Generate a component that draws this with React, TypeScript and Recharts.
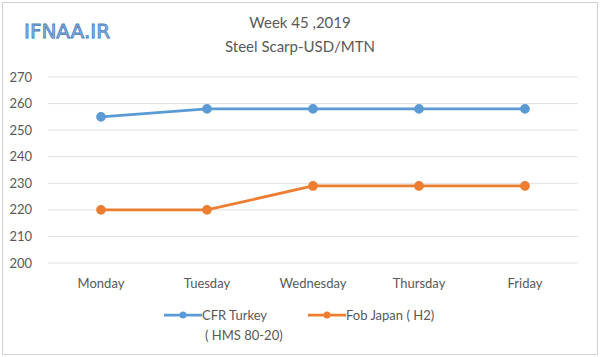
import React from 'react';
import { LineChart, Line, XAxis, YAxis, CartesianGrid } from 'recharts';

const days = ['Monday', 'Tuesday', 'Wednesday', 'Thursday', 'Friday'];
const cfrTurkey = [255, 258, 258, 258, 258];
const fobJapan = [220, 220, 229, 229, 229];
const yTicks = [200, 210, 220, 230, 240, 250, 260, 270];

const BLUE = '#5b9bd5';
const ORANGE = '#ed7d31';
const FONT = 'Lato, "Open Sans", sans-serif';

const data = days.map((d, i) => ({ day: d, cfr: cfrTurkey[i], fob: fobJapan[i] }));

const LegendItem = ({ color, left, children }: { color: string; left: number; children: React.ReactNode }) => (
  <div style={{ position: 'absolute', left, top: 0, display: 'flex', alignItems: 'flex-start' }}>
    <svg width={38} height={14} style={{ marginTop: 3 }}>
      <line x1={0} y1={7} x2={38} y2={7} stroke={color} strokeWidth={2.75} />
      <circle cx={19} cy={7} r={3.5} fill={color} />
    </svg>
    <div style={{ lineHeight: '20px' }}>{children}</div>
  </div>
);

export default function App() {
  return (
    <div style={{ position: 'fixed', left: 0, top: 0, width: 600, height: 357, background: '#fff' }}>
      <div style={{ position: 'absolute', left: 2, top: 2, width: 594, height: 351, border: '1px solid #d0d0d0' }} />
      <div
        style={{
          position: 'absolute', left: 24, top: 19, fontFamily: '"DejaVu Sans", sans-serif', fontSize: 20,
          color: '#8fb4e3', WebkitTextStroke: '0.8px #4a7ebb',
        }}
      >
        IFNAA.IR
      </div>
      <div style={{ position: 'absolute', left: 0, width: 600, top: 10, textAlign: 'center', fontFamily: FONT, fontSize: 15, color: '#595959', lineHeight: '24px' }}>
        Week 45 ,2019<br />Steel Scarp-USD/MTN
      </div>
      <LineChart width={600} height={357} data={data} margin={{ top: 77, right: 22, bottom: 64, left: 0 }} style={{ position: 'absolute', left: 0, top: 0 }}>
        <CartesianGrid vertical={false} stroke="#e0e0e0" />
        <XAxis dataKey="day" axisLine={false} tickLine={false} padding={{ left: 53, right: 53 }} interval={0}
          tick={{ fill: '#595959', fontSize: 13, fontFamily: FONT }} tickMargin={10} height={30} />
        <YAxis domain={[200, 270]} ticks={yTicks} interval={0} axisLine={false} tickLine={false} width={48}
          tick={{ fill: '#595959', fontSize: 13, fontFamily: FONT }} tickMargin={10} />
        <Line type="linear" dataKey="cfr" stroke={BLUE} strokeWidth={2.75} dot={{ r: 3.5, fill: BLUE, stroke: BLUE }} isAnimationActive={false} />
        <Line type="linear" dataKey="fob" stroke={ORANGE} strokeWidth={2.75} dot={{ r: 3.5, fill: ORANGE, stroke: ORANGE }} isAnimationActive={false} />
      </LineChart>
      <div style={{ position: 'absolute', left: 0, top: 305, width: 600, height: 50, fontFamily: FONT, fontSize: 13, color: '#595959' }}>
        <LegendItem color={BLUE} left={164}>
          CFR Turkey<br /><span style={{ paddingLeft: 3 }}>( HMS 80-20)</span>
        </LegendItem>
        <LegendItem color={ORANGE} left={308}>Fob Japan ( H2)</LegendItem>
      </div>
    </div>
  );
}
